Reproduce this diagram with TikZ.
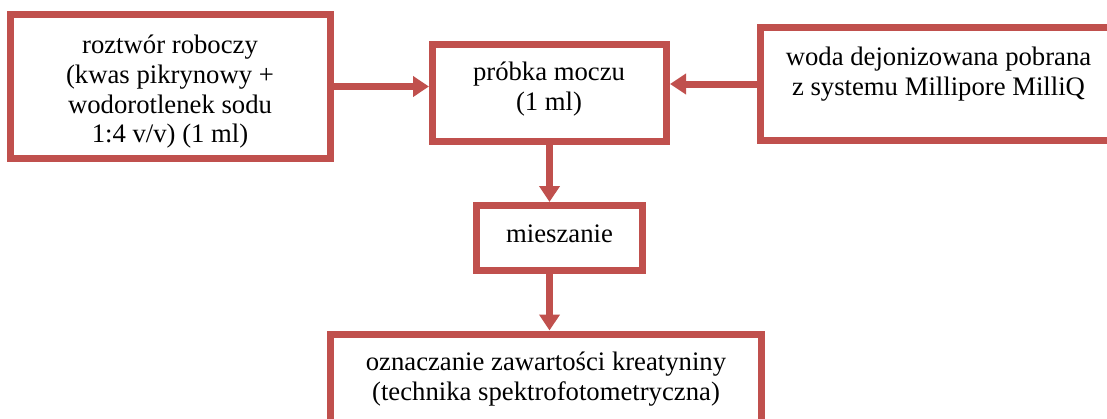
\documentclass[tikz,border=0pt]{standalone}
\usepackage{fontspec}
\setmainfont{Liberation Serif}
\usetikzlibrary{arrows.meta}
\definecolor{boxred}{RGB}{192,80,77}
\tikzset{
  stepbox/.style={draw=boxred, line width=7pt, fill=white, inner sep=0pt},
  boxtext/.style={align=center, inner sep=0pt, font=\fontsize{26.7}{29.7}\selectfont},
  flow/.style={draw=boxred, line width=7pt, -{Triangle[length=16pt,width=20pt]}},
}
\begin{document}
\begin{tikzpicture}[x=1pt, y=-1pt]
  \useasboundingbox (0,0) rectangle (1107,418);
  \clip (0,0) rectangle (1107,418);

  % frames
  \node[stepbox, minimum width=320pt, minimum height=144pt] (b1) at (170.5,86.5) {};
  \node[stepbox, minimum width=234pt, minimum height=97pt]  (b2) at (549.5,93) {};
  \node[stepbox, minimum width=351pt, minimum height=113pt] (b3) at (936,84) {};
  \node[stepbox, minimum width=166pt, minimum height=65pt]  (b4) at (559.5,238) {};
  \node[stepbox, minimum width=431pt, minimum height=96pt]  (b5) at (546,382) {};

  % labels
  \node[boxtext] (t1) at (170,92) {roztwór roboczy\\ (kwas pikrynowy +\\ wodorotlenek sodu\\ 1:4 v/v) (1 ml)};
  \node[boxtext] (t2) at (549,89) {próbka moczu\\ (1 ml)};
  \node[boxtext] (t3) at (938.5,74) {woda dejonizowana pobrana\\ z systemu Millipore MilliQ};
  \node[boxtext] (t4) at (559.5,233.5) {mieszanie};
  \node[boxtext] (t5) at (546,379) {oznaczanie zawartości kreatyniny\\ (technika spektrofotometryczna)};

  % connectors
  \draw[flow] (b1.east) -- (b1.east -| b2.west);
  \draw[flow] (b3.west) -- (b3.west -| b2.east);
  \draw[flow] (b2.south) -- (b2.south |- b4.north);
  \draw[flow] (b4.south -| b2.south) -- (b2.south |- b5.north);
\end{tikzpicture}
\end{document}
